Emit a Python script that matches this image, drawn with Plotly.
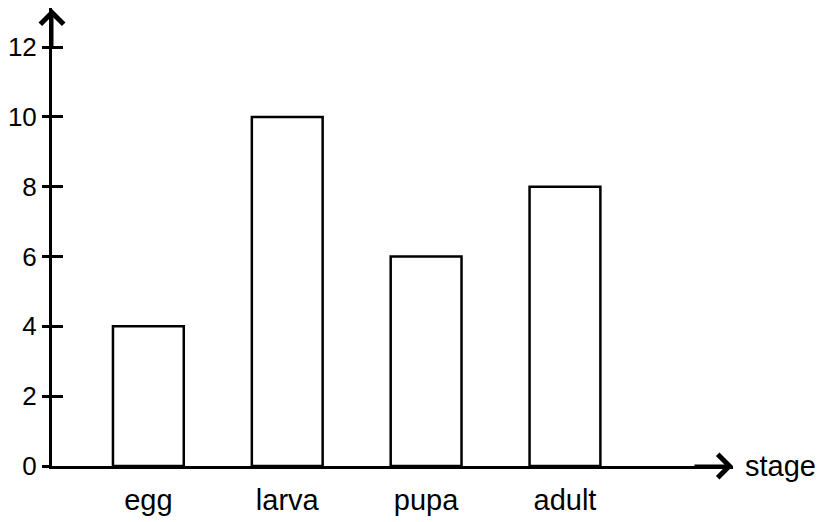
import plotly.graph_objects as go

categories = ["egg", "larva", "pupa", "adult"]
values = [4, 10, 6, 8]
y_ticks = [0, 2, 4, 6, 8, 10, 12]
x_title = "stage"

FONT = "Arial, 'Liberation Sans', sans-serif"

# The page body has an 8px margin, so the figure is sized to fit the window.
fig = go.Figure()
fig.add_trace(go.Bar(
    x=categories, y=values, width=0.51,
    marker=dict(color="white", line=dict(color="black", width=2.5)),
    showlegend=False, hoverinfo="skip",
))
# invisible trace to anchor the second y axis (inner half of the crossing ticks)
fig.add_trace(go.Scatter(x=categories, y=values, yaxis="y2", mode="markers",
                         marker=dict(opacity=0), showlegend=False, hoverinfo="skip"))

fig.update_layout(
    width=817, height=514,
    margin=dict(l=44, r=92, t=0, b=56, autoexpand=False),
    paper_bgcolor="white", plot_bgcolor="white",
    font=dict(family=FONT, size=26, color="black"),
    xaxis=dict(
        type="category", range=[-0.694, 4.21],
        showgrid=False, zeroline=False,
        showline=True, linecolor="black", linewidth=3,
        ticks="outside", ticklen=6, tickcolor="rgba(0,0,0,0)",
        tickfont=dict(size=29),
    ),
    yaxis=dict(
        range=[0, 13.12], tickvals=y_ticks,
        showgrid=False, zeroline=False,
        showline=True, linecolor="black", linewidth=3,
        ticks="outside", ticklen=7, tickwidth=2.5, tickcolor="black",
        tickfont=dict(size=26),
    ),
    yaxis2=dict(
        overlaying="y", matches="y", anchor="x", side="left",
        range=[0, 13.12], tickvals=y_ticks,
        showgrid=False, zeroline=False, showline=False,
        ticks="inside", ticklen=11, tickwidth=2.5, tickcolor="black",
        showticklabels=False,
    ),
    annotations=[
        dict(xref="paper", yref="paper", x=0, y=1, ax=0, ay=40,
             showarrow=True, arrowhead=4, arrowsize=1.5, arrowwidth=3,
             arrowcolor="black", text=""),
        dict(xref="paper", yref="paper", x=1, y=0, ax=-40, ay=0,
             showarrow=True, arrowhead=4, arrowsize=1.5, arrowwidth=3,
             arrowcolor="black", text=""),
        dict(xref="paper", yref="paper", x=1, y=0, xanchor="left", yanchor="middle",
             xshift=10, showarrow=False, text=x_title,
             font=dict(family=FONT, size=29, color="black")),
    ],
)

fig.write_html("out.html")
